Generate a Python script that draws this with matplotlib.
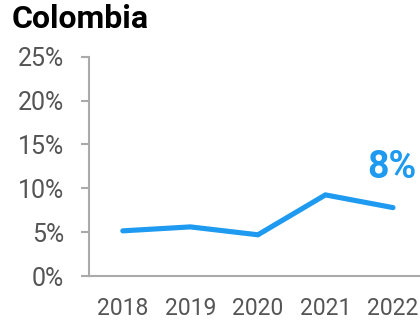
import matplotlib
matplotlib.use("Agg")
import matplotlib.pyplot as plt
from matplotlib.ticker import FuncFormatter

years = ["2018", "2019", "2020", "2021", "2022"]
rate = [5.15, 5.6, 4.7, 9.25, 7.8]
yticks = [0, 5, 10, 15, 20, 25]

plt.rcParams["font.family"] = ["Roboto", "DejaVu Sans"]

blue = "#1E9AF0"
grey = "#AAAAAA"

fig = plt.figure(figsize=(4.2, 3.2), dpi=100)
ax = fig.add_axes([0.212, 0.1375, 0.788, 0.685])

x = list(range(len(years)))
ax.plot(x, rate, color=blue, lw=3.7, solid_capstyle="round", solid_joinstyle="miter")

# value label on the last point
ax.text(x[-1] - 0.02, rate[-1] + 2.5, f"{round(rate[-1])}%", color=blue, fontsize=27,
        fontweight="bold", ha="center", va="bottom")

ax.set_xlim(-0.5, 4.4)
ax.set_ylim(0, 25)
ax.set_xticks(x)
ax.set_xticklabels(years)
ax.set_yticks(yticks)
ax.yaxis.set_major_formatter(FuncFormatter(lambda v, p: f"{v:.0f}%"))

for s in ["top", "right"]:
    ax.spines[s].set_visible(False)
for s in ["left", "bottom"]:
    ax.spines[s].set_color(grey)
    ax.spines[s].set_linewidth(1.5)

ax.tick_params(axis="y", length=6, width=1.5, color=grey, pad=12,
               labelsize=18, labelcolor="#555555")
ax.tick_params(axis="x", length=0, pad=15, labelsize=16.5, labelcolor="#555555")

fig.text(0.028, 0.895, "Colombia", fontsize=23, fontweight="bold", color="black",
         ha="left", va="bottom")

fig.savefig("out.png", dpi=100)
